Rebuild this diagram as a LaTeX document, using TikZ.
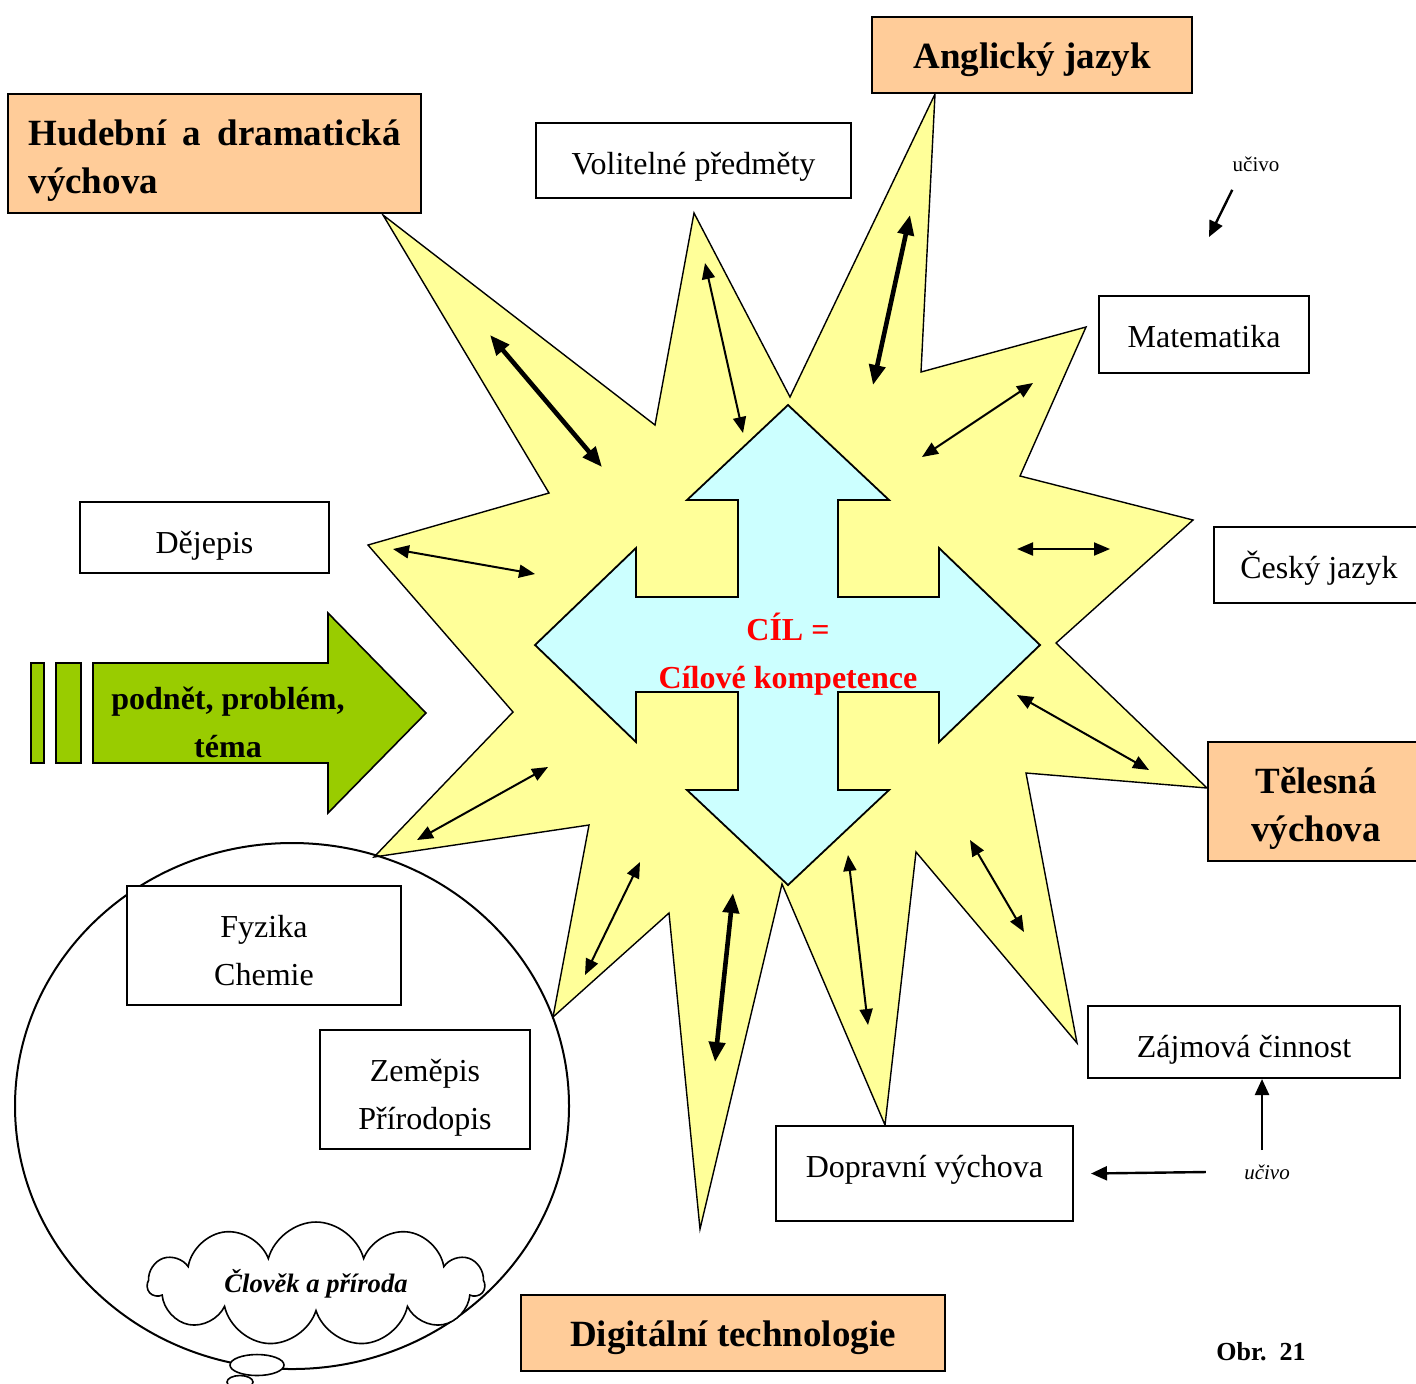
\documentclass[tikz,border=0pt]{standalone}
\usepackage{fontspec}
\setmainfont{Liberation Serif}
\usetikzlibrary{arrows.meta,shapes.geometric,shapes.symbols}

\definecolor{boxorange}{RGB}{255,204,153}
\definecolor{starfill}{RGB}{255,255,153}
\definecolor{crossfill}{RGB}{204,255,255}
\definecolor{arrowgreen}{RGB}{153,204,0}

\tikzset{
  box/.style={draw, line width=1pt, fill=white, inner sep=0pt, align=center, font=\fontsize{16}{24}\selectfont},
  headbox/.style={box, fill=boxorange, font=\bfseries\fontsize{18.5}{24}\selectfont},
  boxh/.style={text height=25.5pt, text depth=#1},
  twoline/.style={text height=49.5pt, text depth=10pt},
  puff/.style={ellipse, draw, fill=white, line width=0.8pt, inner sep=0pt},
  link/.style={{Triangle[length=8pt,width=6.5pt]}-{Triangle[length=8pt,width=6.5pt]}, line width=1pt},
  thicklink/.style={{Triangle[length=10pt,width=8pt]}-{Triangle[length=10pt,width=8pt]}, line width=2.3pt},
  single/.style={-{Triangle[length=8pt,width=7pt]}, line width=1.2pt},
}

\begin{document}
\begin{tikzpicture}[x=0.5pt,y=0.5pt,yscale=-1,xscale=1]
\useasboundingbox (0,0) rectangle (1416,1383);

%Shape: Star
\draw [fill=starfill, line width=0.7pt] (383,215) -- (655,425) -- (694,213) -- (790,397) -- (935,94) -- (921,372) -- (1086,327) -- (1020,476) -- (1193,520) -- (1056,643) -- (1207,788) -- (1026,773) -- (1077,1043) -- (916,852) -- (885,1125) -- (782,884) -- (700,1229) -- (669,913) -- (553,1017) -- (589,825) -- (374,857) -- (513,712) -- (368,545) -- (549,493) -- cycle;

%Straight Lines
\coordinate (lk1a) at (490,335);  \coordinate (lk1b) at (602,467);
\draw [thicklink] (lk1a) -- (lk1b);
\coordinate (lk2a) at (705,263);  \coordinate (lk2b) at (743,433);
\draw [link] (lk2a) -- (lk2b);
\coordinate (lk3a) at (910,215);  \coordinate (lk3b) at (873,385);
\draw [thicklink] (lk3a) -- (lk3b);
\coordinate (lk4a) at (1033,383); \coordinate (lk4b) at (922,457);
\draw [link] (lk4a) -- (lk4b);
\coordinate (lk5a) at (1017,549); \coordinate (lk5b) at (1110,549);
\draw [link] (lk5a) -- (lk5b);
\coordinate (lk6a) at (1017,695); \coordinate (lk6b) at (1149,770);
\draw [link] (lk6a) -- (lk6b);
\coordinate (lk7a) at (970,840);  \coordinate (lk7b) at (1024,932);
\draw [link] (lk7a) -- (lk7b);
\coordinate (lk8a) at (848,855);  \coordinate (lk8b) at (868,1025);
\draw [link] (lk8a) -- (lk8b);
\coordinate (lk9a) at (733,893);  \coordinate (lk9b) at (715,1062);
\draw [thicklink] (lk9a) -- (lk9b);
\coordinate (lk10a) at (640,862); \coordinate (lk10b) at (585,975);
\draw [link] (lk10a) -- (lk10b);
\coordinate (lk11a) at (548,767); \coordinate (lk11b) at (417,840);
\draw [link] (lk11a) -- (lk11b);
\coordinate (lk12a) at (393,549); \coordinate (lk12b) at (535,574);
\draw [link] (lk12a) -- (lk12b);

%Shape: Quad Arrow
\draw [fill=crossfill, line width=0.9pt] (788,405) -- (889,500) -- (838,500) -- (838,597) -- (939,597) -- (939,548) -- (1040,645) -- (939,742) -- (939,692) -- (838,692) -- (838,790) -- (889,790) -- (788,885) -- (687,790) -- (738,790) -- (738,692) -- (636,692) -- (636,742) -- (535,645) -- (636,548) -- (636,597) -- (738,597) -- (738,500) -- (687,500) -- cycle;
% Text Node
\node (goal) [text=red, font=\bfseries\fontsize{16}{24}\selectfont, align=center] at (788,654) {CÍL =\\Cílové kompetence};

%Shape: Right Arrow
\draw [fill=arrowgreen, line width=0.8pt] (93,663) -- (328,663) -- (328,613) -- (426,713) -- (328,813) -- (328,763) -- (93,763) -- cycle;
\draw [fill=arrowgreen, line width=0.8pt] (31,663) rectangle (44,763);
\draw [fill=arrowgreen, line width=0.8pt] (56,663) rectangle (81,763);
% Text Node
\node (podnet) [font=\bfseries\fontsize{16}{24}\selectfont, align=center] at (228,722) {podnět, problém,\\téma};

%Shape: Circle
\node (priroda) [ellipse, draw, line width=1pt, minimum width=277pt, minimum height=263pt, inner sep=0pt] at (292,1106) {};

% Boxes
\node (hud) [headbox, boxh=34pt, align=justify, text width=186pt, minimum width=206.5pt, minimum height=59.5pt] at (214.5,153.5) {Hudební a dramatická výchova};
\node (ang) [headbox, boxh=12.5pt, minimum width=160pt, minimum height=38pt] at (1032,55) {Anglický jazyk};
\node (vol) [box, boxh=12pt, minimum width=157.5pt, minimum height=37.5pt] at (693.5,160.5) {Volitelné předměty};
\node (mat) [box, boxh=13pt, minimum width=105pt, minimum height=38.5pt] at (1204,334.5) {Matematika};
\node (dej) [box, boxh=10pt, minimum width=124.5pt, minimum height=35.5pt] at (204.5,537.5) {Dějepis};
\node (ces) [box, boxh=12.5pt, minimum width=102pt, minimum height=38pt] at (1316,565) {\hspace{3pt}Český jazyk};
\node (tel) [headbox, twoline, minimum width=105pt, minimum height=59.5pt] at (1313,801.5) {\hspace{3pt}Tělesná\\\hspace{3pt}výchova};
\node (zaj) [box, boxh=10.5pt, minimum width=156pt, minimum height=36pt] at (1244,1042) {Zájmová činnost};
\node (dop) [box, boxh=22pt, minimum width=148.5pt, minimum height=47.5pt] at (924.5,1173.5) {Dopravní výchova};
\node (dig) [headbox, boxh=12.5pt, minimum width=212pt, minimum height=38pt] at (733,1333) {Digitální technologie};
\node (fyz) [box, twoline, minimum width=137pt, minimum height=59.5pt] at (264,945.5) {Fyzika\\Chemie};
\node (zem) [box, twoline, minimum width=105pt, minimum height=59.5pt] at (425,1089.5) {Zeměpis\\Přírodopis};

%Shape: Cloud
\node (tail2) [puff, minimum width=13pt, minimum height=6.5pt] at (240,1382) {};
\node (tail1) [puff, minimum width=27pt, minimum height=10.5pt] at (257,1365) {};
\node (clovek) [cloud, draw, fill=white, line width=0.8pt, cloud puffs=11, cloud ignores aspect, minimum width=168pt, minimum height=62pt, inner sep=0pt, font=\bfseries\itshape\fontsize{13.3}{16}\selectfont] at (316,1284) {Člověk a příroda};

% Text Node
\node (ucivoA) [font=\fontsize{10.5}{12}\selectfont, inner sep=0pt] at (1256,164) {učivo};
\coordinate (ucivoAend) at (1209,237);
\draw [single] ([yshift=9pt]ucivoA.south west) -- (ucivoAend);

% Text Node
\node (ucivoB) [font=\itshape\fontsize{10.5}{12}\selectfont, inner sep=0pt] at (1267,1172) {učivo};
\draw [single] ([xshift=-2.5pt,yshift=-7pt]ucivoB.north) -- ([xshift=9pt]zaj.south);
\draw [single] ([xshift=-19pt]ucivoB.west) -- ([xshift=8.5pt]dop.east);

% Text Node
\node (obr) [font=\bfseries\fontsize{13}{16}\selectfont] at (1261,1352) {Obr.\ \ 21};

\end{tikzpicture}
\end{document}
